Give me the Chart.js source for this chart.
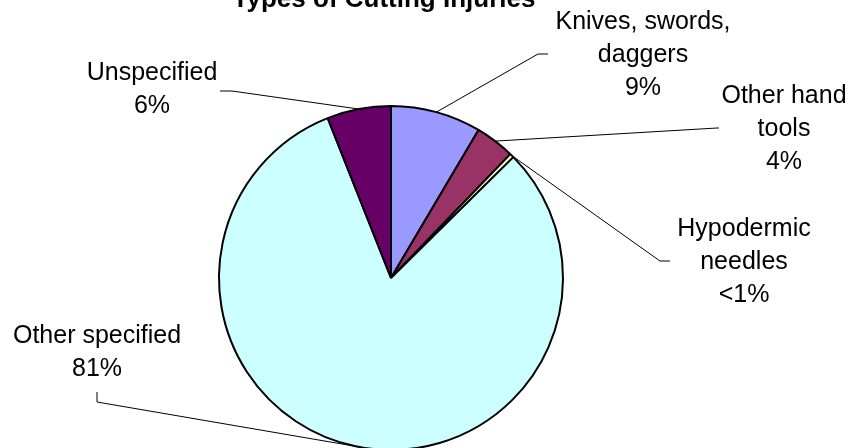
<!DOCTYPE html>
<html>
<head>
<meta charset="utf-8">
<script src="https://cdn.jsdelivr.net/npm/chart.js@4"></script>
<style>
  html, body { margin: 0; padding: 0; background: #fff; overflow: hidden; }
  .wrap { width: 864px; height: 480px; position: relative; }
</style>
</head>
<body>
<div class="wrap"><canvas id="myChart"></canvas></div>
<script>
// slices, clockwise from 12 o'clock
const categories = ['Knives, swords, daggers', 'Other hand tools', 'Hypodermic needles', 'Other specified', 'Unspecified'];
const shares = [8.5, 3.7, 0.4, 81.4, 6.0];
const sliceColors = ['#9999FF', '#993366', '#FFFFCC', '#CCFFFF', '#660066'];

// how each label is broken into lines, and where it sits
const labelLines = [
    ['Knives, swords,', 'daggers'],
    ['Other hand', 'tools'],
    ['Hypodermic', 'needles'],
    ['Other specified'],
    ['Unspecified']
];
const labelBoxes = [
    { x: 643, y: 22, elbow: [538, 54], tail: [548, 54] },
    { x: 784, y: 96, elbow: [717, 128], tail: [719, 128] },
    { x: 744, y: 229, elbow: [660, 261], tail: [670, 261] },
    { x: 97, y: 336, elbow: [97, 402], tail: [97, 392] },
    { x: 152, y: 73, elbow: [232, 91], tail: [220, 91] }
];

const pctText = v => (v < 1 ? '<1%' : Math.round(v) + '%');

const leaderLabels = {
    id: 'leaderLabels',
    afterDraw(chart) {
        const ctx = chart.ctx;
        const arcs = chart.getDatasetMeta(0).data;
        ctx.save();
        ctx.font = '25px "Liberation Sans", Arial, sans-serif';
        ctx.fillStyle = '#000';
        ctx.textAlign = 'center';
        ctx.textBaseline = 'middle';
        arcs.forEach((arc, i) => {
            const p = arc.getProps(['x', 'y', 'startAngle', 'endAngle', 'outerRadius'], true);
            const mid = (p.startAngle + p.endAngle) / 2;
            const ax = p.x + Math.cos(mid) * p.outerRadius;
            const ay = p.y + Math.sin(mid) * p.outerRadius;
            const b = labelBoxes[i];
            ctx.strokeStyle = '#000';
            ctx.lineWidth = 1;
            ctx.beginPath();
            ctx.moveTo(ax, ay);
            ctx.lineTo(b.elbow[0], b.elbow[1]);
            ctx.lineTo(b.tail[0], b.tail[1]);
            ctx.stroke();
            const lines = labelLines[i].concat([pctText(shares[i])]);
            lines.forEach((t, k) => ctx.fillText(t, b.x, b.y + k * 33));
        });
        // title, mostly above the frame
        ctx.font = 'bold 26px "Liberation Sans", Arial, sans-serif';
        ctx.textBaseline = 'alphabetic';
        ctx.fillText('Types of Cutting Injuries', 384, 7);
        ctx.restore();
    }
};

new Chart(document.getElementById('myChart'), {
    type: 'pie',
    data: {
        labels: categories,
        datasets: [{
            data: shares,
            backgroundColor: sliceColors,
            borderColor: '#000',
            borderWidth: 2,
            borderAlign: 'center'
        }]
    },
    options: {
        responsive: true,
        maintainAspectRatio: false,
        animation: false,
        layout: { padding: { left: 218, right: 300, top: 105, bottom: 29 } },
        plugins: {
            legend: { display: false },
            tooltip: { enabled: false },
            title: { display: false }
        }
    },
    plugins: [leaderLabels]
});
</script>
</body>
</html>
